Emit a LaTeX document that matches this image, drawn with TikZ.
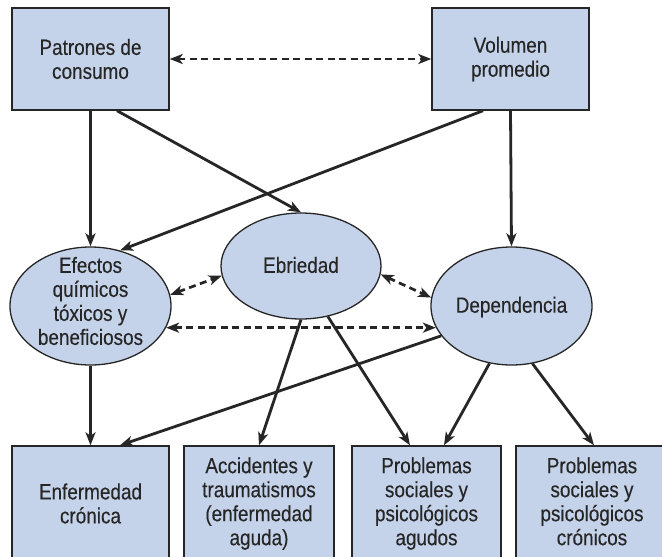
\documentclass[tikz,border=0pt]{standalone}
\usepackage{fontspec}
\setmainfont{Liberation Sans}[FakeStretch=0.86,FakeBold=0.3]
\usetikzlibrary{arrows.meta,shapes.geometric}
\definecolor{boxfill}{HTML}{C5D3EA}
\definecolor{ink}{HTML}{262626}
\tikzset{
  txt/.style={font=\fontsize{22}{24}\selectfont, text=ink, align=center, inner sep=0pt},
  boxn/.style={txt, draw=ink, fill=boxfill, line width=1.4pt, rectangle, minimum height=102pt},
  lowbox/.style={boxn, minimum height=115pt},
  oval/.style={draw=ink, fill=boxfill, line width=1.3pt, ellipse, inner sep=0pt},
  arr/.style={draw=ink, line width=2.8pt, -{Stealth[length=13pt,width=10pt,inset=3.5pt]}},
  darr/.style={draw=ink, line width=2.7pt, dash pattern=on 7pt off 4.5pt,
     {Stealth[length=13pt,width=10pt,inset=3.5pt]}-{Stealth[length=13pt,width=10pt,inset=3.5pt]}}
}
\begin{document}
\begin{tikzpicture}[x=1pt,y=-1pt]
\clip (0,0) rectangle (662,557);
\fill[white] (0,0) rectangle (662,557);
% top boxes
\node[boxn, minimum width=157pt] (pat) at (90.5,59) {Patrones de\\consumo};
\node[boxn, minimum width=157pt] (vol) at (510.5,59) {Volumen\\promedio};
% ellipses
\node[oval, minimum width=161pt, minimum height=118pt] (efe) at (90.5,306) {};
\node[txt] (efeT) at (90.5,301) {Efectos\\químicos\\tóxicos y\\beneficiosos};
\node[oval, minimum width=160pt, minimum height=106pt] (ebr) at (301,266) {};
\node[txt] (ebrT) at (301,265) {Ebriedad};
\node[oval, minimum width=161pt, minimum height=118pt] (dep) at (511.5,306) {};
\node[txt] (depT) at (511.5,307) {Dependencia};
% bottom boxes
\node[lowbox, minimum width=157pt] (enf) at (90.5,503.5) {Enfermedad\\crónica};
\node[lowbox, minimum width=150pt] (acc) at (259,503.5) {Accidentes y\\traumatismos\\(enfermedad\\aguda)};
\node[lowbox, minimum width=149pt] (pa) at (426.5,503.5) {Problemas\\sociales y\\psicológicos\\agudos};
\node[lowbox, minimum width=152pt] (pc) at (592,503.5) {Problemas\\sociales y\\psicológicos\\crónicos\vphantom{g}};
% connectors
\draw[darr] (pat.east) -- (vol.west);
\draw[arr] (pat.south) -- (efe.north);
\draw[arr] ([xshift=26.5pt]pat.south) -- (ebr.north);
\draw[arr] ([xshift=-27.5pt]vol.south) -- (efe.62);
\draw[arr] (vol.south) -- (dep.north);
\draw[darr] (efe.8) -- (ebr.187);
\draw[darr] (ebr.-6) -- (dep.174);
\draw[darr] (efe.-16.5) -- (dep.196.5);
\draw[arr] (efe.south) -- (enf.north);
\draw[arr] (dep.203.5) -- ([xshift=29.5pt]enf.north);
\draw[arr] (ebr.south) -- (acc.north);
\draw[arr] (ebr.-62) -- ([xshift=-16.5pt]pa.north);
\draw[arr] (dep.249) -- ([xshift=17.5pt]pa.north);
\draw[arr] (dep.-70) -- ([xshift=2pt]pc.north);
\end{tikzpicture}
\end{document}
